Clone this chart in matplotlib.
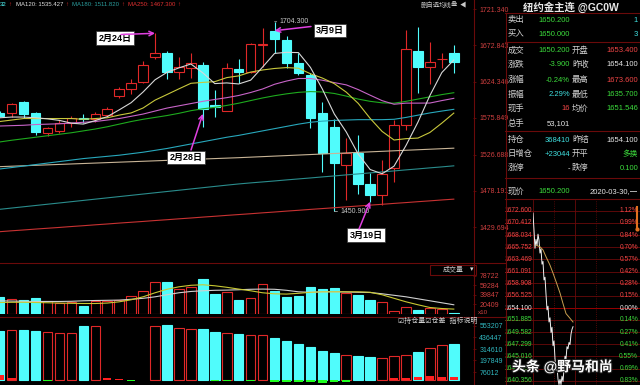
import matplotlib
matplotlib.use("Agg")
import matplotlib.pyplot as plt
import matplotlib.patheffects as pe
from matplotlib.transforms import blended_transform_factory

plt.rcParams['font.family'] = ['Liberation Sans', 'Noto Sans CJK SC', 'DejaVu Sans']
plt.rcParams['axes.unicode_minus'] = False

NAN = float('nan')

# ---------------- data (daily, 2020-02-05 .. 2020-03-30) ----------------
opens = [1582.4, 1582.4, 1597.5, 1582.0, 1556.1, 1558.8, 1568.6, 1575.6, 1574.0, 1579.7,
         1605.5, 1614.9, 1623.4, 1656.8, 1662.2, 1637.6, 1642.5, 1646.5, 1593.1, 1585.5,
         1640.8, 1637.6, 1672.9, 1692.4, 1679.9, 1649.6, 1633.2, 1582.0, 1564.1, 1512.9,
         1528.6, 1487.5, 1472.8, 1508.5, 1566.4, 1665.6, 1643.5, 1653.9, 1662.8]
highs = [1585.1, 1596.2, 1598.8, 1584.1, 1564.1, 1573.0, 1578.4, 1581.1, 1584.1, 1590.0,
         1617.5, 1627.4, 1652.3, 1688.9, 1665.6, 1657.2, 1663.0, 1650.9, 1613.1, 1649.6,
         1654.1, 1676.3, 1696.0, 1704.3, 1685.3, 1662.2, 1635.4, 1597.5, 1574.0, 1548.6,
         1553.0, 1501.8, 1519.6, 1573.0, 1693.3, 1697.7, 1677.6, 1662.2, 1673.6]
lows = [1577.1, 1577.4, 1575.7, 1553.0, 1551.7, 1556.1, 1564.1, 1568.6, 1570.8, 1577.4,
        1602.0, 1607.4, 1622.1, 1654.1, 1627.4, 1627.2, 1628.8, 1564.1, 1577.4, 1585.1,
        1622.1, 1635.8, 1644.3, 1662.2, 1642.1, 1633.2, 1562.0, 1504.0, 1450.9, 1466.2,
        1474.2, 1463.9, 1459.5, 1490.6, 1559.7, 1609.5, 1621.1, 1642.9, 1635.7]
closes = [1579.0, 1594.0, 1581.1, 1557.0, 1562.0, 1568.6, 1575.3, 1575.0, 1580.7, 1587.7,
          1614.5, 1622.9, 1646.5, 1662.2, 1637.6, 1644.3, 1648.8, 1587.3, 1590.4, 1642.1,
          1637.2, 1674.6, 1674.6, 1681.3, 1649.6, 1635.4, 1576.1, 1529.4, 1515.2, 1529.4,
          1487.5, 1472.8, 1500.9, 1566.4, 1667.5, 1643.5, 1650.9, 1654.1, 1650.2]

ma5 = [1576.0, 1577.0, 1577.0, 1576.0, 1574.6, 1572.5, 1568.8, 1567.6, 1572.3, 1577.5,
       1586.6, 1596.2, 1610.5, 1626.8, 1636.7, 1642.7, 1647.9, 1636.0, 1621.7, 1622.6,
       1621.2, 1626.3, 1643.8, 1662.0, 1663.5, 1663.1, 1643.4, 1614.4, 1581.1, 1557.1,
       1527.5, 1506.9, 1501.2, 1511.4, 1539.0, 1570.2, 1605.8, 1636.5, 1653.2]
ma10 = [1571.0, 1573.0, 1575.0, 1575.0, 1575.0, 1575.0, 1575.0, 1574.0, 1575.0, 1576.0,
        1579.6, 1582.5, 1589.1, 1599.6, 1607.1, 1614.7, 1622.1, 1623.3, 1624.3, 1629.7,
        1632.0, 1637.1, 1639.9, 1641.9, 1643.1, 1642.2, 1634.9, 1629.1, 1621.6, 1610.3,
        1595.3, 1575.2, 1557.8, 1546.3, 1548.1, 1548.9, 1556.4, 1568.9, 1582.3]
ma20 = [1565.0, 1565.5, 1566.0, 1567.0, 1567.5, 1568.0, 1569.0, 1570.0, 1571.0, 1573.0,
        1575.0, 1578.0, 1581.0, 1585.0, 1589.0, 1592.0, 1595.0, 1598.0, 1600.5, 1602.9,
        1605.8, 1609.8, 1614.5, 1620.8, 1625.1, 1628.5, 1628.5, 1626.2, 1623.0, 1620.0,
        1613.7, 1606.2, 1598.9, 1594.1, 1595.6, 1595.6, 1595.7, 1599.0, 1602.0]
ma30 = [1543.7, 1546.0, 1548.0, 1550.0, 1552.0, 1554.0, 1556.0, 1558.5, 1561.0, 1564.0,
        1567.5, 1571.0, 1574.0, 1576.5, 1579.0, 1582.0, 1585.5, 1588.0, 1590.0, 1592.5,
        1595.5, 1599.0, 1602.5, 1605.5, 1608.0, 1610.0, 1611.0, 1610.5, 1608.5, 1605.0,
        1601.0, 1598.0, 1596.0, 1595.5, 1598.0, 1601.0, 1604.0, 1607.0, 1609.5]
ma60 = [1507.6, 1509.5, 1511.5, 1513.5, 1515.5, 1517.5, 1519.5, 1521.5, 1523.0, 1524.5,
        1526.0, 1528.0, 1530.0, 1532.5, 1535.0, 1538.0, 1541.0, 1544.0, 1547.0, 1550.0,
        1552.5, 1555.5, 1558.5, 1561.5, 1564.5, 1567.5, 1570.0, 1571.5, 1572.5, 1573.0,
        1573.5, 1573.5, 1573.5, 1574.0, 1576.5, 1579.5, 1582.5, 1585.0, 1587.3]
ma120 = [1510.7, 1511.3, 1511.9, 1512.5, 1513.1, 1513.7, 1514.3, 1514.9, 1515.5, 1516.1,
         1516.7, 1517.3, 1517.9, 1518.5, 1519.1, 1519.7, 1520.3, 1520.9, 1521.5, 1522.1,
         1522.7, 1523.4, 1524.1, 1524.8, 1525.5, 1526.2, 1526.9, 1527.6, 1528.3, 1529.0,
         1529.8, 1530.5, 1531.2, 1531.9, 1532.6, 1533.3, 1534.0, 1534.7, 1535.4]
ma180 = [1453.7, 1455.4, 1457.1, 1458.8, 1460.5, 1462.2, 1463.9, 1465.6, 1467.3, 1469.0,
         1470.7, 1472.4, 1474.1, 1475.8, 1477.5, 1479.2, 1480.9, 1482.6, 1484.3, 1486.0,
         1487.6, 1489.0, 1490.3, 1491.6, 1493.0, 1494.3, 1495.6, 1497.0, 1498.3, 1499.7,
         1501.0, 1502.4, 1503.7, 1505.0, 1506.4, 1507.7, 1509.1, 1510.4, 1511.8]
ma250 = [1423.8, 1425.0, 1426.1, 1427.3, 1428.4, 1429.5, 1430.7, 1431.8, 1433.0, 1434.1,
         1435.3, 1436.4, 1437.5, 1438.7, 1439.8, 1441.0, 1442.1, 1443.3, 1444.4, 1445.6,
         1446.7, 1447.8, 1449.0, 1450.1, 1451.3, 1452.4, 1453.6, 1454.7, 1455.8, 1457.0,
         1458.1, 1459.3, 1460.4, 1461.6, 1462.7, 1463.9, 1465.0, 1466.2, 1467.3]

volume = [35400, 30600, 28600, 32000, 25800, 21700, 23800, 16900, 27200, 26000,
          28600, 37500, 47800, 65200, 65200, 51200, 56000, 71800, 40900, 44400,
          28600, 32000, 61500, 46400, 35400, 36100, 54700, 51200, 53300, 42300,
          39500, 28600, 23800, 6600, 14800, 8000, 11400, 10000, 2500]
vol_ma5 = [23700, 24100, 24100, 23700, 23100, 22500, 22000, 21600, 21600, 22500,
           25100, 29300, 35400, 43700, 50900, 56000, 59100, 60200, 58100, 55000,
           51300, 47800, 43700, 41600, 41000, 42600, 44700, 45700, 45700, 45700,
           45700, 44700, 39600, 32300, 25100, 19000, 13400, 11300, 10100]
vol_ma10 = [27200, 26600, 26200, 25800, 25800, 25800, 26200, 27200, 27800, 28200,
            28600, 30300, 32300, 35400, 39600, 43700, 46400, 47800, 48800, 49200,
            49900, 50900, 51300, 50900, 48800, 45700, 44700, 45700, 45700, 45300,
            44700, 44300, 41600, 38500, 35400, 31300, 27200, 23100, 19000]

# open interest: no bar shown for four sessions in the reference
open_interest = [504600, 511800, 511800, 504600, 488000, 483900, 483900, 556300, 556300, NAN,
                 NAN, NAN, NAN, 556300, 563500, 529400, 522200, 519100, 494300, 477700,
                 470500, 460100, 457000, 426000, 401200, 367100, 339200, 297800, 270900, 253300,
                 239900, 235800, 219200, 243000, 253300, 284400, 322600, 356700, 368410]
oi_change = [44000, 20000, 0, 0, -15000, 0, 0, 0, 0, 15000,
             10000, -12000, 0, 0, 0, 0, 0, 0, -18000, -12000,
             0, -12000, 0, -28000, -25000, -25000, -25000, -40000, -22000, -22000,
             0, 0, -8000, 16000, 16000, 25000, 32000, 30000, 23044]

price_ticks = [1721.340, 1672.843, 1624.346, 1575.849, 1526.688, 1478.191, 1429.694]
vol_ticks = [78722, 59284, 39847, 20409]
oi_ticks = [553207, 436447, 314610, 197849, 76012]

# intraday (2020-03-30)
intraday_price = [1672.2, 1669.0, 1665.5, 1667.2, 1666.0, 1668.2, 1667.0, 1664.6, 1665.4, 1662.5,
                  1663.0, 1659.5, 1660.0, 1656.8, 1653.8, 1654.5, 1651.5, 1652.3, 1649.5, 1650.5,
                  1647.0, 1647.9, 1644.5, 1642.3, 1643.2, 1640.6, 1639.6, 1640.6, 1639.6, 1641.2,
                  1640.2, 1642.5, 1645.0, 1644.5, 1646.8, 1646.4, 1647.6, 1647.2, 1649.2, 1650.1,
                  1650.6]
intraday_avg_t = [3, 7, 10, 13, 17, 20, 23, 27, 30, 33, 37, 40]
intraday_avg = [1666.1, 1665.8, 1665.2, 1663.9, 1662.3, 1660.8, 1659.2, 1657.0, 1655.0, 1653.1,
                1652.2, 1651.5]
intraday_ticks = [1672.600, 1670.412, 1668.034, 1665.752, 1663.469, 1661.091, 1658.908, 1656.525,
                  1654.100, 1651.885, 1649.582, 1647.299, 1645.016, 1642.633, 1640.356]
intraday_pct = ["1.12%", "0.99%", "0.84%", "0.70%", "0.57%", "0.42%", "0.28%", "0.15%",
                "0.00%", "0.14%", "0.27%", "0.41%", "0.55%", "0.69%", "0.83%"]
prev_settle = 1654.100

quote_rows = [
    ("卖出", "1650.200", "g", "", "1", "c", 20.0),
    ("买入", "1650.000", "g", "", "3", "c", 34.0),
    ("成交", "1650.200", "g", "开盘", "1653.400", "r", 51.0),
    ("涨跌", "-3.900", "g", "昨收", "1654.100", "w", 65.0),
    ("涨幅", "-0.24%", "g", "最高", "1673.600", "r", 80.0),
    ("振幅", "2.29%", "c", "最低", "1635.700", "g", 95.0),
    ("现手", "16", "r", "均价", "1651.546", "g", 108.7),
    ("总手", "53,101", "w", "", "", "w", 123.3),
    ("持仓", "368410", "c", "昨结", "1654.100", "w", 140.0),
    ("日增仓", "+23044", "c", "开平", "多换", "g", 154.3),
    ("涨停", "-", "w", "跌停", "0.100", "g", 168.3),
    ("现价", "1650.200", "g", "", "2020-03-30,一", "w", 191.7),
]

# ---------------- styling ----------------
BG = 'black'
RED = '#e02828'
CYAN = '#50fcfc'
GRID = '#6a0a0a'
AXRED = '#d04040'
TXT = {'g': '#3cdc3c', 'r': '#f04646', 'c': '#40e0e0', 'w': '#e6e6e6'}
LBL = '#d2d2d2'
MAG = '#e040e0'

W, H = 640, 385
fig = plt.figure(figsize=(6.4, 3.85), dpi=100, facecolor=BG)


def add_px(x0, y0, x1, y1, z=1):
    ax = fig.add_axes([x0 / W, 1 - y1 / H, (x1 - x0) / W, (y1 - y0) / H], zorder=z)
    ax.set_facecolor('none')
    for s in ax.spines.values():
        s.set_visible(False)
    ax.set_xticks([])
    ax.set_yticks([])
    return ax


def right_ticks(ax, ticks, labels, color):
    ax.yaxis.tick_right()
    ax.set_yticks(ticks)
    ax.set_yticklabels(labels)
    ax.tick_params(axis='y', which='both', length=2, width=0.6, color=GRID,
                   labelcolor=color, labelsize=5, pad=2.5)


n = len(closes)
xs = list(range(n))
XL = (0.025, 0.025 + 473 / 11.95)
up = [c >= o for o, c in zip(opens, closes)]
face = [BG if u else CYAN for u in up]
edge = [RED if u else CYAN for u in up]

# ---------------- main candlestick panel ----------------
axm = add_px(0, 0, 473, 262)
axm.set_xlim(*XL)
axm.set_ylim(1383.3, 1733.4)
for i in xs:
    top, bot = max(opens[i], closes[i]), min(opens[i], closes[i])
    axm.vlines(i, top, highs[i], color=edge[i], lw=0.8, zorder=3)
    axm.vlines(i, lows[i], bot, color=edge[i], lw=0.8, zorder=3)
bodies_h = [max(abs(c - o), 0.3) for o, c in zip(opens, closes)]
bodies_b = [min(o, c) for o, c in zip(opens, closes)]
axm.bar(xs, bodies_h, bottom=bodies_b, width=0.8, color=face, edgecolor=edge,
        linewidth=0.8, zorder=3)
ma_specs = [(ma250, '#c83232'), (ma180, '#2a8c8c'), (ma120, '#c8b496'), (ma60, '#28a8bc'),
            (ma30, '#1eaa1e'), (ma20, '#c864c8'), (ma10, '#c8c83c'), (ma5, '#d8d8d8')]
for vals, col in ma_specs:
    axm.plot(xs, vals, color=col, lw=0.8, zorder=4)
right_ticks(axm, price_ticks, [f"{t:.3f}" for t in price_ticks], AXRED)

i_hi = highs.index(max(highs))
i_lo = lows.index(min(lows))
axm.annotate(f"{highs[i_hi]:.3f}", xy=(i_hi, highs[i_hi]), xytext=(5, 0),
             textcoords='offset pixels', ha='left', va='center', fontsize=5, color='#c8c8c8',
             arrowprops=dict(arrowstyle='-', lw=0.5, color='#c8c8c8', shrinkA=0, shrinkB=0), zorder=6)
axm.annotate(f"{lows[i_lo]:.3f}", xy=(i_lo, lows[i_lo]), xytext=(6, 0),
             textcoords='offset pixels', ha='left', va='center', fontsize=5, color='#c8c8c8',
             arrowprops=dict(arrowstyle='-', lw=0.5, color='#c8c8c8', shrinkA=0, shrinkB=0), zorder=6)

# ---------------- volume panel ----------------
axv = add_px(0, 263, 473, 314)
axv.set_xlim(*XL)
axv.set_ylim(0, 105000)
axv.bar(xs, volume, width=0.8, color=face, edgecolor=edge, linewidth=0.8, zorder=3)
axv.plot(xs, vol_ma10, color='#d0d0d0', lw=0.8, zorder=4)
axv.plot(xs, vol_ma5, color='#c8c832', lw=0.8, zorder=4)
right_ticks(axv, vol_ticks, [str(t) for t in vol_ticks], AXRED)

# ---------------- open interest panel ----------------
axo = add_px(0, 318, 473, 384)
axo.set_xlim(*XL)
axo.set_ylim(-46530, 635910)
oi_x = [x for x, v in zip(xs, open_interest) if v == v]
oi_v = [v for v in open_interest if v == v]
oi_face = [f for f, v in zip(face, open_interest) if v == v]
oi_edge = [e for e, v in zip(edge, open_interest) if v == v]
axo.bar(oi_x, oi_v, width=0.8, color=oi_face, edgecolor=oi_edge, linewidth=0.8, zorder=3)
axo.bar(xs, oi_change, width=0.7, color=['#ff2020' if v > 0 else '#20ff20' for v in oi_change],
        linewidth=0, zorder=4)
right_ticks(axo, oi_ticks, [str(t) for t in oi_ticks], '#30b8c0')

# ---------------- intraday panel ----------------
axi = add_px(533, 200, 617, 385)
axi.set_xlim(0, 84)
axi.set_ylim(1639.52, 1674.69)
for v in intraday_ticks:
    c = '#b00000' if v == prev_settle else GRID
    axi.axhline(v, xmin=-28 / 84, xmax=107 / 84, color=c, lw=0.6, clip_on=False, zorder=1)
for t in [0, 21, 42, 63, 84]:
    axi.axvline(t, color=GRID, lw=0.6, ls='-' if t in (0, 42, 84) else ':', zorder=1)
axi.plot(range(len(intraday_price)), intraday_price, color='#f0f0f0', lw=0.7, zorder=3)
axi.plot(intraday_avg_t, intraday_avg, color='#c8a050', lw=0.7, zorder=3)
tr = blended_transform_factory(axi.transAxes, axi.transData)
for v, p in zip(intraday_ticks, intraday_pct):
    col = TXT['r'] if v > prev_settle else (TXT['w'] if v == prev_settle else TXT['g'])
    axi.text(-0.01, v, f"{v:.3f}", transform=tr, ha='right', va='center', fontsize=4.8, color=col)
    axi.text(1.25, v, p, transform=tr, ha='right', va='center', fontsize=4.8, color=col)

# ---------------- overlay (texts, separators, annotations) ----------------
ov = fig.add_axes([0, 0, 1, 1], zorder=10)
ov.set_xlim(0, W)
ov.set_ylim(H, 0)
ov.axis('off')
ov.patch.set_alpha(0)

sep = dict(color=GRID, lw=0.8)
ov.plot([473.5, 473.5], [0, H], **sep)
ov.plot([505.5, 505.5], [13, H], **sep)
ov.plot([0, 505], [262.5, 262.5], **sep)
ov.plot([0, 505], [316.5, 316.5], **sep)
for y in [13, 42, 131, 178, 199]:
    ov.plot([505, 640], [y, y], **sep)

# title bar of the main chart
ts = 4.3
ov.text(0, 5, "32", color=CYAN, fontsize=ts, va='center')
ov.text(8, 5, "↑", color=RED, fontsize=ts, va='center')
ov.text(16, 5, "MA120: 1535.427", color='#e0e0e0', fontsize=ts, va='center')
ov.text(65, 5, "↑", color=RED, fontsize=ts, va='center')
ov.text(72, 5, "MA180: 1511.820", color='#2a9c9c', fontsize=ts, va='center')
ov.text(121, 5, "↑", color=RED, fontsize=ts, va='center')
ov.text(128, 5, "MA250: 1467.300", color='#e03030', fontsize=ts, va='center')
ov.text(177, 5, "↑", color=RED, fontsize=ts, va='center')
ov.text(421, 5, "删自选", color='#c8c8c8', fontsize=4.6, va='center')
ov.text(439, 5, "均线", color='#c8c8c8', fontsize=4.6, va='center')
ov.text(451, 5, "叠", color='#c8c8c8', fontsize=4.6, va='center')
ov.text(460, 5, "◀", color='#c8c8c8', fontsize=4.6, va='center')

# volume / OI panel labels
ov.add_patch(plt.Rectangle((430, 265), 46, 10, fill=False, ec=GRID, lw=0.8))
ov.text(443, 270, "成交量", color='#c8c8c8', fontsize=5, va='center')
ov.text(470, 270, "▾", color='#e0e0e0', fontsize=5, va='center')
ov.text(478, 312, "x10", color=AXRED, fontsize=4.5, va='center')
ov.text(398, 321, "☑持仓量☑仓差  指标说明", color='#d0d0d0', fontsize=5, va='center')

# date call-outs
boxes = [("2月24日", 115, 38), ("2月28日", 186, 157.5), ("3月9日", 330, 30.5), ("3月19日", 366, 235)]
for s, x, y in boxes:
    ov.text(x, y, s, ha='center', va='center', fontsize=6.5, weight='bold', color='black',
            bbox=dict(boxstyle='square,pad=0.25', fc='white', ec='#303030', lw=0.5), zorder=5)
arrows = [((121, 34.5), (13, highs[13])), ((191, 150), (17, closes[17] - 6)),
          ((311, 26.5), (23, opens[23])), ((359, 229), (31, lows[31]))]
for start, tip in arrows:
    ov.annotate('', xy=tip, xycoords=axm.transData, xytext=start, textcoords='data',
                arrowprops=dict(arrowstyle='->', color=MAG, lw=1.1, shrinkA=0, shrinkB=0,
                                mutation_scale=8), zorder=6)

# quote panel
ov.text(571, 7, "纽约金主连 @GC0W", ha='center', va='center', fontsize=7.5, weight='bold', color='#e8e8e8')
for l1, v1, c1, l2, v2, c2, y in quote_rows:
    ov.text(507.5, y, l1, ha='left', va='center', fontsize=6, color=LBL)
    ov.text(570, y, v1, ha='right', va='center', fontsize=5.5, color=TXT[c1])
    if l2:
        ov.text(572, y, l2, ha='left', va='center', fontsize=6, color=LBL)
    if v2:
        ov.text(638, y, v2, ha='right', va='center', fontsize=5.5, color=TXT[c2])
ov.plot([637, 637], [207, 229], color='#e07020', lw=1.5)
ov.plot([637], [229], marker='o', ms=2, color='#e07020')

ov.text(512, 367, "头条 @野马和尚", ha='left', va='center', fontsize=10, weight='bold', color='white',
        path_effects=[pe.withStroke(linewidth=1.5, foreground='#202020')])

fig.savefig('out.png', dpi=100, facecolor=BG)
